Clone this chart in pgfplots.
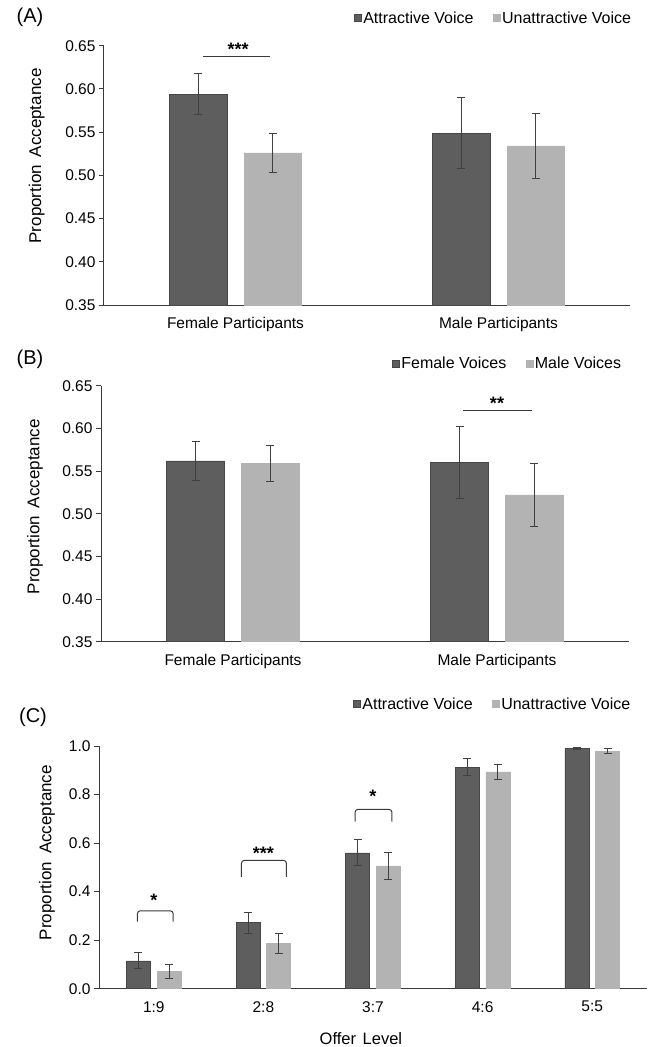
\documentclass[border=0pt]{standalone}
\usepackage{pgfplots}
\pgfplotsset{compat=1.18}
\usepackage{fontspec}
\setmainfont{Liberation Sans}
\definecolor{darkbar}{HTML}{5E5E5E}
\definecolor{darkedge}{HTML}{474747}
\definecolor{lightbar}{HTML}{B3B3B3}
\definecolor{axgray}{HTML}{3A3A3A}
\definecolor{errgray}{HTML}{404040}

\tikzset{stars/.style={anchor=base, font=\fontsize{18}{18}\selectfont\bfseries}}

\pgfplotsset{
  panel/.style={
    scale only axis,
    axis x line*=bottom,
    axis y line*=left,
    axis line style={-, draw=axgray, line width=1pt},
    tick style={draw=axgray, line width=0.9pt},
    tick align=outside,
    major tick length=5pt,
    ybar,
    clip=false,
    font=\fontsize{16}{18}\selectfont,
    /pgf/number format/assume math mode=true,
    tick label style={font=\fontsize{15.5}{18}\selectfont},
    x tick label style={yshift=-4pt},
    y tick label style={/pgf/number format/fixed, /pgf/number format/fixed zerofill},
    legend style={draw=none, fill=none, font=\fontsize{16}{18}\selectfont,
      legend columns=2, anchor=east,
      /tikz/every even column/.append style={column sep=18pt},
      nodes={inner sep=1.5pt}},
    legend image code/.code={\fill[##1] (0pt,-3.5pt) rectangle (7pt,3.5pt);},
    ylabel={Proportion\hspace{0.45em}Acceptance},
    ylabel style={font=\fontsize{17}{18}\selectfont, anchor=center},
    error bars/y dir=both,
    error bars/y explicit,
    error bars/error bar style={draw=errgray, line width=1pt},
    error bars/error mark options={rotate=90, mark size=4pt, draw=errgray, line width=1pt},
  },
  darkbars/.style={fill=darkbar, draw=darkedge, line width=0.6pt},
  lightbars/.style={fill=lightbar, draw=lightbar, line width=0.6pt},
}

\begin{document}
\begin{tikzpicture}
\path[use as bounding box] (0pt,0pt) rectangle (649pt,-1047pt);

% ---------------- Panel A ----------------
\node[font=\fontsize{20}{22}\selectfont] at (30pt,-17pt) {(A)};
\begin{axis}[panel,
  at={(104pt,-305pt)}, anchor=south west,
  width=526pt, height=259.3pt,
  xmin=-0.5, xmax=1.5, ymin=0.35, ymax=0.65,
  xtick={0,1}, xticklabels={Female Participants, Male Participants},
  x tick style={draw=none},
  ytick={0.35,0.40,0.45,0.50,0.55,0.60,0.65},
  y tick label style={/pgf/number format/precision=2},
  bar width=0.218,
  ylabel style={at={(axis description cs:-0.128,0.575)}},
  legend style={at={(axis description cs:1.011,1.107)}},
]
\addplot[darkbars, bar shift=-0.142] coordinates {(0,0.594) +- (0,0.024) (1,0.549) +- (0,0.041)};
\addlegendentry{Attractive Voice}
\addplot[lightbars, bar shift=0.142] coordinates {(0,0.526) +- (0,0.023) (1,0.534) +- (0,0.0375)};
\addlegendentry{Unattractive Voice}
\draw[axgray, line width=1pt] (axis cs:-0.123,0.638) -- (axis cs:0.13,0.638);
\node[stars] at (axis cs:0.01,0.639) {***};
\end{axis}

% ---------------- Panel B ----------------
\node[font=\fontsize{20}{22}\selectfont] at (30pt,-359pt) {(B)};
\begin{axis}[panel,
  at={(101pt,-641.7pt)}, anchor=south west,
  width=528pt, height=256pt,
  xmin=-0.5, xmax=1.5, ymin=0.35, ymax=0.65,
  xtick={0,1}, xticklabels={Female Participants, Male Participants},
  x tick style={draw=none},
  ytick={0.35,0.40,0.45,0.50,0.55,0.60,0.65},
  y tick label style={/pgf/number format/precision=2},
  bar width=0.218,
  ylabel style={at={(axis description cs:-0.125,0.527)}},
  legend style={at={(axis description cs:0.994,1.085)}},
]
\addplot[darkbars, bar shift=-0.142] coordinates {(0,0.562) +- (0,0.023) (1,0.560) +- (0,0.042)};
\addlegendentry{Female Voices}
\addplot[lightbars, bar shift=0.142] coordinates {(0,0.559) +- (0,0.0215) (1,0.522) +- (0,0.037)};
\addlegendentry{Male Voices}
\draw[axgray, line width=1pt] (axis cs:0.872,0.621) -- (axis cs:1.132,0.621);
\node[stars] at (axis cs:1.0,0.622) {**};
\end{axis}

% ---------------- Panel C ----------------
\node[font=\fontsize{20}{22}\selectfont] at (33pt,-717pt) {(C)};
\begin{axis}[panel,
  at={(99pt,-988.7pt)}, anchor=south west,
  width=548pt, height=242.7pt,
  xmin=-0.5, xmax=4.5, ymin=0, ymax=1.0,
  xtick={0,1,2,3,4}, xticklabels={1:9, 2:8, 3:7, 4:6, 5:5},
  x tick style={draw=none},
  extra x ticks={0.5,1.5,2.5,3.5,4.5},
  extra x tick labels={},
  extra x tick style={tick style={draw=axgray, line width=0.9pt}, major tick length=6pt},
  ytick={0,0.2,0.4,0.6,0.8,1.0},
  y tick label style={/pgf/number format/precision=1},
  bar width=0.219,
  xlabel={Offer\hspace{0.4em}Level},
  xlabel style={font=\fontsize{16.5}{18}\selectfont, at={(axis description cs:0.478,-0.205)}, anchor=center},
  ylabel style={at={(axis description cs:-0.095,0.561)}},
  legend style={at={(axis description cs:0.978,1.173)}},
]
\addplot[darkbars, bar shift=-0.14] coordinates {
  (0,0.115) +- (0,0.033) (1,0.272) +- (0,0.044) (2,0.560) +- (0,0.053)
  (3,0.913) +- (0,0.034) (4,0.990) +- (0,0.004)};
\addlegendentry{Attractive Voice}
\addplot[lightbars, bar shift=0.14] coordinates {
  (0,0.071) +- (0,0.027) (1,0.187) +- (0,0.040) (2,0.506) +- (0,0.054)
  (3,0.893) +- (0,0.031) (4,0.979) +- (0,0.010)};
\addlegendentry{Unattractive Voice}
\draw[axgray, line width=1pt, rounded corners=3pt] (axis cs:-0.15,0.276) -- (axis cs:-0.15,0.321) -- (axis cs:0.177,0.321) -- (axis cs:0.177,0.276);
\draw[axgray, line width=1pt, rounded corners=3pt] (axis cs:0.8,0.461) -- (axis cs:0.8,0.529) -- (axis cs:1.21,0.529) -- (axis cs:1.21,0.461);
\draw[axgray, line width=1pt, rounded corners=3pt] (axis cs:1.836,0.688) -- (axis cs:1.836,0.739) -- (axis cs:2.173,0.739) -- (axis cs:2.173,0.688);
\node[stars] at (axis cs:0,0.338) {*};
\node[stars] at (axis cs:1,0.533) {***};
\node[stars] at (axis cs:2,0.766) {*};
\end{axis}
\end{tikzpicture}
\end{document}
